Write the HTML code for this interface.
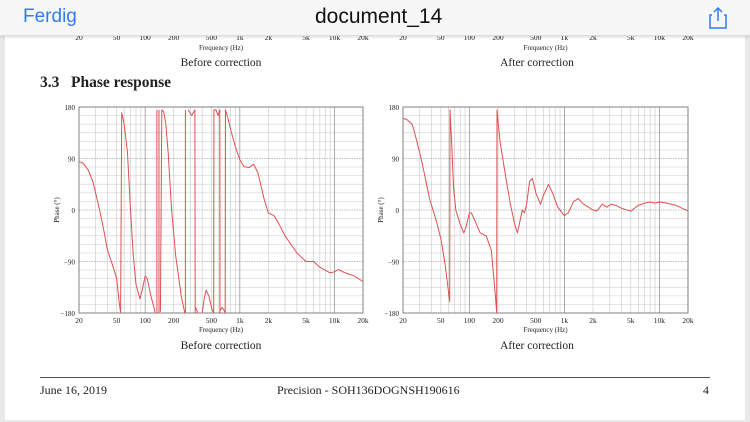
<!DOCTYPE html>
<html><head><meta charset="utf-8"><style>
body{margin:0;width:750px;height:422px;overflow:hidden;background:#e8e8e8;font-family:"Liberation Serif",serif;}
#page{position:absolute;left:5px;top:0;width:740px;height:420px;background:#fff;}
#hdr{position:absolute;left:0;top:0;width:750px;height:35px;background:#f7f7f7;border-bottom:1px solid #ddd;box-shadow:0 1px 3px rgba(0,0,0,0.15);font-family:"Liberation Sans",sans-serif;z-index:2}
.t{position:absolute;white-space:nowrap;color:#222}
</style></head><body>
<div id="page"></div>
<svg id="s" width="750" height="422" style="position:absolute;left:0;top:0" font-family="Liberation Serif, serif"></svg>
<div id="hdr">
<div class="t" style="left:23px;top:6px;font-size:19px;color:#2f7cf6">Ferdig</div>
<div class="t" style="left:315px;top:5px;font-size:21px;color:#111">document_14</div>
<svg style="position:absolute;left:708px;top:6px" width="20" height="24"><path d="M4 9 H2 V22 H18 V9 H16 M10 15 V2 M6 6 L10 2 L14 6" fill="none" stroke="#2f7cf6" stroke-width="1.5"/></svg>
</div>
<div class="t" style="left:40px;top:74px;font-size:15.5px;font-weight:bold">3.3&nbsp;&nbsp;&nbsp;Phase response</div>
<div style="position:absolute;left:40px;top:377px;width:670px;height:1px;background:#555"></div>
<div class="t" style="left:40px;top:383px;font-size:12px">June 16, 2019</div>
<div class="t" style="left:277px;top:383px;font-size:12px">Precision - SOH136DOGNSH190616</div>
<div class="t" style="left:703px;top:383px;font-size:12px">4</div>
<script>
const s=document.getElementById('s');let h='';
const T=(x,y,t,sz,a,extra)=>{h+=`<text x="${x}" y="${y}" font-size="${sz}" text-anchor="${a||'middle'}" fill="#222" ${extra||''}>${t}</text>`};
const tl=[[20,'20'],[50,'50'],[100,'100'],[200,'200'],[500,'500'],[1000,'1k'],[2000,'2k'],[5000,'5k'],[10000,'10k'],[20000,'20k']];
function plot(x0,x1,y0,y1,data){
 const W=x1-x0,H=y1-y0;
 const fx=f=>x0+Math.log10(f/20)/3*W, fy=p=>y0+(180-p)/360*H;
 for(let p=-180;p<=180;p+=15){h+=`<line x1="${x0}" x2="${x1}" y1="${fy(p)}" y2="${fy(p)}" stroke="${p%90==0?'#aaa':'#d8d8d8'}" stroke-width="0.7" ${p%90==0?'stroke-dasharray="1.5,1"':''}/>`;}
 for(let d=10;d<=10000;d*=10)for(let k=1;k<10;k++){const f=d*k;if(f<20||f>20000)continue;const maj=(k==1);h+=`<line x1="${fx(f)}" x2="${fx(f)}" y1="${y0}" y2="${y1}" stroke="${maj?'#888':'#cfcfcf'}" stroke-width="0.7"/>`;}
 h+=`<rect x="${x0}" y="${y0}" width="${W}" height="${H}" fill="none" stroke="#777" stroke-width="0.9"/>`;
 [180,90,0,-90,-180].forEach(p=>T(x0-4,fy(p)+3,p<0?'−'+(-p):p,7,'end'));
 tl.forEach(([f,l])=>T(fx(f),y1+10,l,7.5));
 T((x0+x1)/2,y1+19,'Frequency (Hz)',7);
 T(x0-20,(y0+y1)/2,'Phase (°)',7,'middle',`transform="rotate(-90 ${x0-20} ${(y0+y1)/2})"`);
 tl.forEach(([f,l])=>T(fx(f),40,l,7.5));
 T((x0+x1)/2,50,'Frequency (Hz)',7);
 data.forEach(seg=>{h+=`<polyline fill="none" stroke="#e05050" stroke-width="1" stroke-linejoin="round" points="${seg.map(([f,p])=>fx(f).toFixed(1)+','+fy(p).toFixed(1)).join(' ')}"/>`;});
}
const L=[
[[20,85],[22,82],[25,70],[28,50],[32,10],[36,-30],[40,-70],[45,-95],[50,-120],[53,-160],[55,-180]],
[[55,-180],[56.5,170],[60,150],[65,100],[70,0],[75,-80],[80,-130],[88,-155],[93,-140],[100,-115],[105,-120],[115,-150],[128,-180]],
[[133,-180],[133,175]],[[140,175],[140,-180]],
[[145,-178],[150,175],[157,172],[165,150],[175,100],[190,0],[210,-80],[240,-150],[262,-180]],
[[266,-180],[266,175]],[[285,175],[310,165],[335,175],[338,-180]],
[[340,-170],[350,-175],[360,-180]],
[[400,-180],[420,-155],[440,-140],[470,-150],[510,-175],[530,-180],[532,175],[560,175],[590,165],[615,175],[618,-180]],
[[625,-175],[650,-170],[680,-175],[700,-180],[705,175],[750,160],[800,140],[900,110],[1000,88],[1100,76],[1250,74],[1400,80],[1550,65],[1800,20],[2000,-5],[2300,-10],[2600,-25],[3000,-45],[4000,-75],[5000,-90],[6000,-90],[7000,-100],[9000,-110],[10000,-108],[11000,-104],[13000,-110],[16000,-115],[20000,-125]]
];
const R=[
[[20,160],[22,158],[25,150],[28,120],[32,80],[38,20],[45,-20],[50,-50],[55,-90],[60,-140],[62,-160],[62.5,175],[65,120],[68,40],[72,0],[80,-25],[87,-40],[92,-30],[100,-5],[105,-5],[115,-20],[130,-40],[150,-45],[170,-70],[188,-150],[194,-180],[195,175],[210,120],[240,60],[270,10],[300,-25],[320,-40],[340,-20],[360,0],[380,-5],[400,10],[430,50],[460,55],[500,30],[560,10],[600,25],[680,45],[750,30],[850,5],[1000,-10],[1100,-5],[1250,15],[1400,20],[1600,10],[2000,0],[2200,-2],[2500,10],[2800,5],[3100,10],[3500,8],[4000,3],[5000,-2],[6000,8],[7000,12],[8000,14],[9000,12],[10000,14],[12000,12],[15000,8],[20000,-2]]
];
plot(79,363,107,313,L);
plot(403,688,107,313,R);
T(221,66,'Before correction',11.5);T(537,66,'After correction',11.5);
T(221,349,'Before correction',11.5);T(537,349,'After correction',11.5);
s.innerHTML=h;
</script>
</body></html>
